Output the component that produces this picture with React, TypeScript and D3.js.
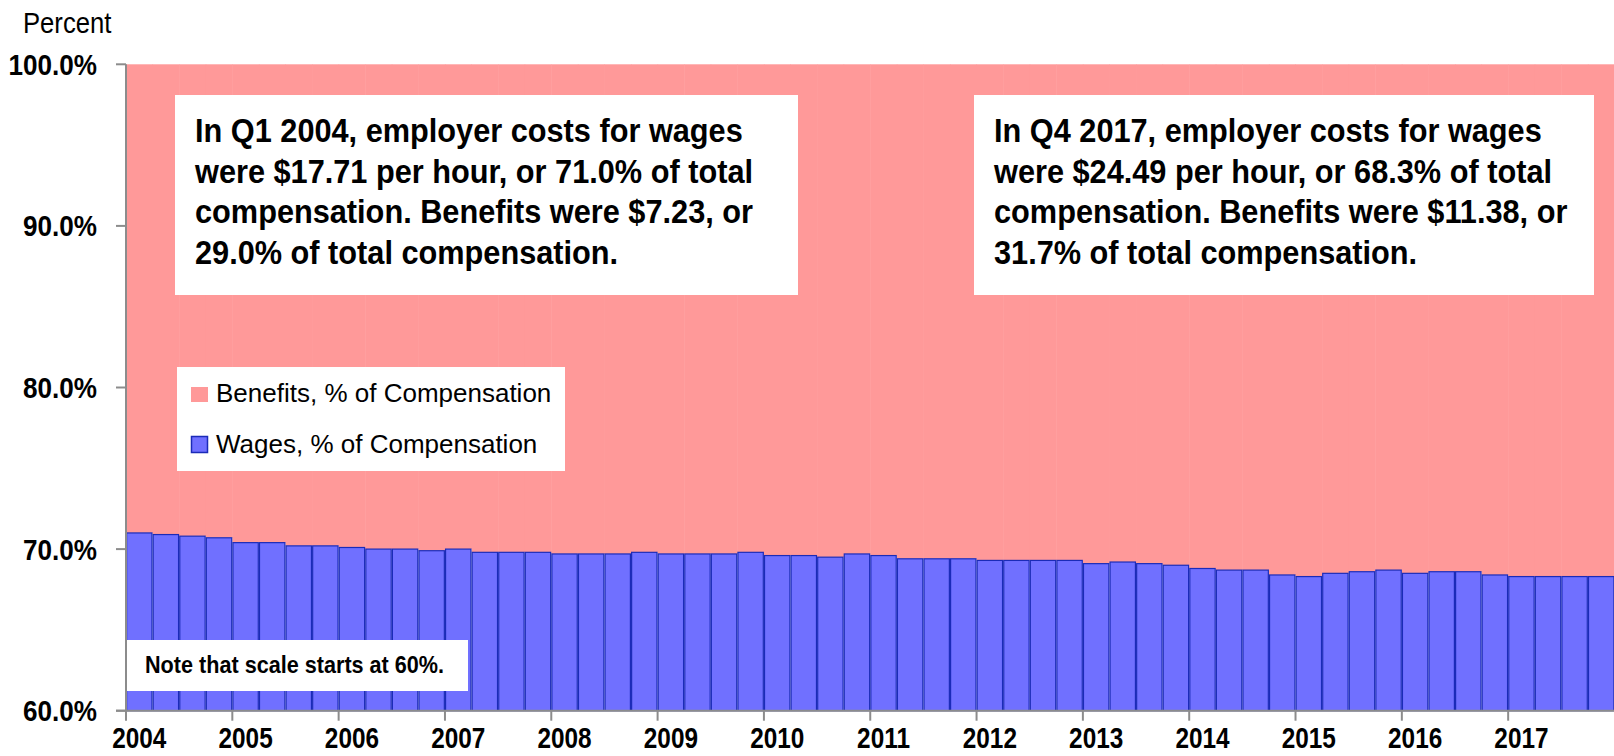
import React, { useRef, useEffect } from 'react';
import * as d3 from 'd3';

const years = ['2004', '2005', '2006', '2007', '2008', '2009', '2010', '2011', '2012', '2013', '2014', '2015', '2016', '2017'];
const quarterNames = ['Q1', 'Q2', 'Q3', 'Q4'];

// wages share of total compensation, % (quarterly)
const wages = [
  71.0, 70.9, 70.8, 70.7, 70.4, 70.4, 70.2, 70.2, 70.1, 70.0, 70.0, 69.9, 70.0, 69.8, 69.8, 69.8,
  69.7, 69.7, 69.7, 69.8, 69.7, 69.7, 69.7, 69.8, 69.6, 69.6, 69.5, 69.7, 69.6, 69.4, 69.4, 69.4,
  69.3, 69.3, 69.3, 69.3, 69.1, 69.2, 69.1, 69.0, 68.8, 68.7, 68.7, 68.4, 68.3, 68.5, 68.6, 68.7,
  68.5, 68.6, 68.6, 68.4, 68.3, 68.3, 68.3, 68.3,
];

// benefits share of total compensation, %
const benefits = [
  29.0, 29.1, 29.2, 29.3, 29.6, 29.6, 29.8, 29.8, 29.9, 30.0, 30.0, 30.1, 30.0, 30.2, 30.2, 30.2,
  30.3, 30.3, 30.3, 30.2, 30.3, 30.3, 30.3, 30.2, 30.4, 30.4, 30.5, 30.3, 30.4, 30.6, 30.6, 30.6,
  30.7, 30.7, 30.7, 30.7, 30.9, 30.8, 30.9, 31.0, 31.2, 31.3, 31.3, 31.6, 31.7, 31.5, 31.4, 31.3,
  31.5, 31.4, 31.4, 31.6, 31.7, 31.7, 31.7, 31.7,
];

const yTicks = [60, 70, 80, 90, 100];

const noteLeft = [
  'In Q1 2004, employer costs for wages',
  'were $17.71 per hour, or 71.0% of total',
  'compensation. Benefits were $7.23, or',
  '29.0% of total compensation.',
];
const noteRight = [
  'In Q4 2017, employer costs for wages',
  'were $24.49 per hour, or 68.3% of total',
  'compensation. Benefits were $11.38, or',
  '31.7% of total compensation.',
];

const PINK = '#ff9999';
const BLUE = '#7070ff';
const DARK_BLUE = '#1b2bb8';
const GRAY = '#8c8c8c';

function CompensationChart({ width = 1614, height = 756 }) {
  const ref = useRef(null);

  useEffect(() => {
    const svg = d3.select(ref.current);
    svg.selectAll('*').remove();

    const left = 126;
    const top = 64.3;
    const bottom = 710.7;
    const bandW = 26.58;

    const categories = years.flatMap((yr) => quarterNames.map((q) => `${yr} ${q}`));
    const rows = categories.map((c, i) => ({ cat: c, wages: wages[i], benefits: benefits[i] }));

    const x = d3
      .scaleBand()
      .domain(categories)
      .range([left, left + bandW * categories.length])
      .padding(0);

    const y = d3.scaleLinear().domain([60, 100]).range([bottom, top]);

    const stack = d3.stack().keys(['wages', 'benefits']).offset((series) => {
      // wages start at the 60% floor of the axis
      for (let j = 0; j < series[0].length; j++) {
        series[0][j][0] = 60;
        series[0][j][1] = rows[j].wages;
        series[1][j][0] = rows[j].wages;
        series[1][j][1] = rows[j].wages + rows[j].benefits;
      }
    });
    const layers = stack(rows);

    const scaledText = (g, tx, ty, sx, str, opts) => {
      const t = g
        .append('g')
        .attr('transform', `translate(${tx},${ty}) scale(${sx},1)`)
        .append('text')
        .attr('x', 0)
        .attr('y', 0)
        .attr('font-family', 'Liberation Sans, Arial, sans-serif')
        .attr('font-size', opts.size)
        .attr('font-weight', opts.weight || 'normal')
        .attr('text-anchor', opts.anchor || 'start')
        .attr('fill', '#000')
        .text(str);
      return t;
    };

    // benefits (pink) bars
    svg
      .append('g')
      .selectAll('rect')
      .data(layers[1])
      .enter()
      .append('rect')
      .attr('x', (d) => x(d.data.cat))
      .attr('y', (d) => y(d[1]))
      .attr('width', x.bandwidth() + 0.5)
      .attr('height', (d) => y(d[0]) - y(d[1]))
      .attr('fill', PINK);

    // wages (blue) bars
    svg
      .append('g')
      .selectAll('rect')
      .data(layers[0])
      .enter()
      .append('rect')
      .attr('x', (d) => x(d.data.cat) + 0.6)
      .attr('y', (d) => y(d[1]))
      .attr('width', x.bandwidth() - 1.2)
      .attr('height', (d) => y(d[0]) - y(d[1]))
      .attr('fill', BLUE)
      .attr('stroke', DARK_BLUE)
      .attr('stroke-width', 1.2);

    // axes
    const axes = svg.append('g');
    axes
      .append('line')
      .attr('x1', left)
      .attr('x2', left)
      .attr('y1', top)
      .attr('y2', bottom)
      .attr('stroke', GRAY)
      .attr('stroke-width', 2);
    axes
      .append('line')
      .attr('x1', left - 10)
      .attr('x2', width)
      .attr('y1', bottom)
      .attr('y2', bottom)
      .attr('stroke', GRAY)
      .attr('stroke-width', 2);

    yTicks.forEach((t) => {
      axes
        .append('line')
        .attr('x1', left - 10)
        .attr('x2', left)
        .attr('y1', y(t))
        .attr('y2', y(t))
        .attr('stroke', GRAY)
        .attr('stroke-width', 2);
      scaledText(axes, 97, y(t) + 10.5, 0.9, `${t.toFixed(1)}%`, { size: 29, weight: 'bold', anchor: 'end' });
    });

    years.forEach((yr) => {
      const x0 = x(`${yr} Q1`);
      axes
        .append('line')
        .attr('x1', x0)
        .attr('x2', x0)
        .attr('y1', bottom)
        .attr('y2', bottom + 10)
        .attr('stroke', GRAY)
        .attr('stroke-width', 2);
      scaledText(axes, x0 + x.bandwidth() / 2, 748, 0.84, yr, { size: 29, weight: 'bold', anchor: 'middle' });
    });

    scaledText(svg, 23, 33, 0.87, 'Percent', { size: 29.5 });

    // annotation boxes
    const note = (bx, by, bw, bh, lines) => {
      const g = svg.append('g');
      g.append('rect').attr('x', bx).attr('y', by).attr('width', bw).attr('height', bh).attr('fill', '#fff');
      lines.forEach((ln, i) => {
        scaledText(g, bx + 20, by + 47 + i * 40.5, 0.945, ln, { size: 32.5, weight: 'bold' });
      });
    };
    note(175, 95, 623, 200, noteLeft);
    note(974, 95, 620, 200, noteRight);

    // legend
    const lg = svg.append('g');
    lg.append('rect').attr('x', 177).attr('y', 367).attr('width', 388).attr('height', 104).attr('fill', '#fff');
    lg.append('rect').attr('x', 191).attr('y', 387).attr('width', 17).attr('height', 15).attr('fill', PINK);
    lg
      .append('rect')
      .attr('x', 191.5)
      .attr('y', 436.5)
      .attr('width', 16)
      .attr('height', 16)
      .attr('fill', BLUE)
      .attr('stroke', DARK_BLUE)
      .attr('stroke-width', 1.5);
    scaledText(lg, 216, 401.5, 1, 'Benefits, % of Compensation', { size: 26 });
    scaledText(lg, 216, 453, 1, 'Wages, % of Compensation', { size: 26 });

    // scale note
    const ng = svg.append('g');
    ng.append('rect').attr('x', left + 1).attr('y', 640).attr('width', 341).attr('height', 51).attr('fill', '#fff');
    scaledText(ng, 145, 673, 0.94, 'Note that scale starts at 60%.', { size: 23, weight: 'bold' });
  }, [width, height]);

  return (
    <svg
      ref={ref}
      width={width}
      height={height}
      style={{ position: 'absolute', left: 0, top: 0, background: '#fff' }}
    ></svg>
  );
}

export default function App() {
  return <CompensationChart />;
}
